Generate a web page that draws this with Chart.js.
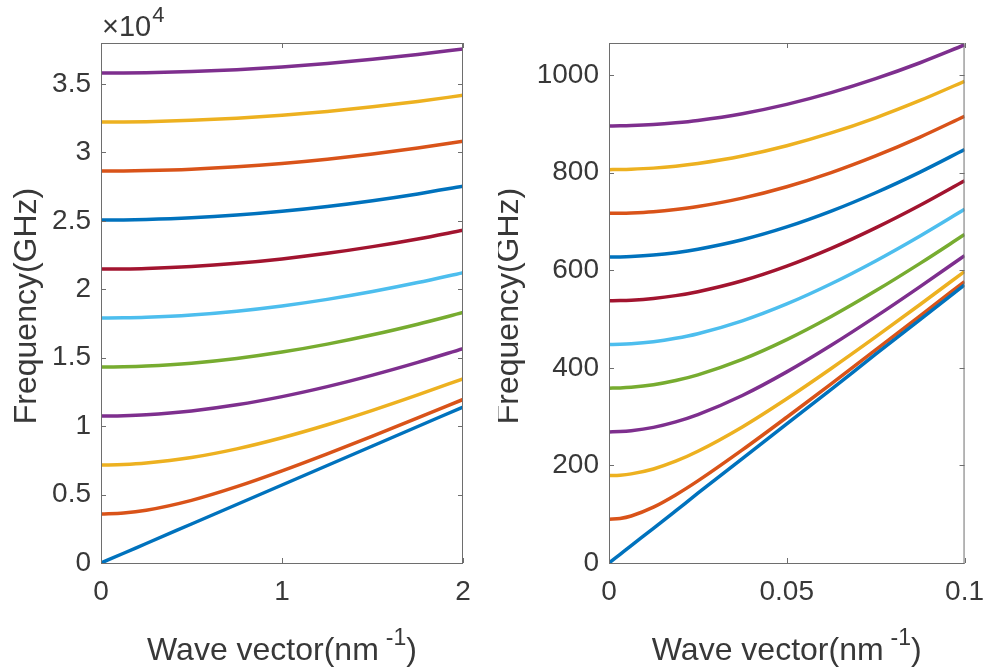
<!DOCTYPE html>
<html>
<head>
<meta charset="utf-8">
<script src="https://cdn.jsdelivr.net/npm/chart.js@4.4.1/dist/chart.umd.min.js"></script>
<style>
  html, body { margin: 0; padding: 0; background: #fff; }
  #wrap { position: relative; width: 996px; height: 670px; }
  .box { position: absolute; top: 0; width: 498px; height: 670px; }
</style>
</head>
<body>
<div id="wrap">
  <div class="box" style="left:0"><canvas id="leftChart"></canvas></div>
  <div class="box" style="left:498px"><canvas id="rightChart"></canvas></div>
</div>
<script>
// 波矢 (nm^-1)，左右兩圖的取樣點
const leftK = [0, 0.125, 0.25, 0.5, 0.75, 1, 1.25, 1.5, 1.75, 2];
const rightK = [0, 0.003125, 0.00625, 0.0125, 0.01875, 0.025, 0.0375, 0.05, 0.0625, 0.075, 0.0875, 0.1];

// 刻度
const leftXTicks = [0, 1, 2];
const leftYTicks = [0, 5000, 10000, 15000, 20000, 25000, 30000, 35000];
const rightXTicks = [0, 0.05, 0.1];
const rightYTicks = [0, 200, 400, 600, 800, 1000];

// 左圖各模態頻率 (GHz)
const leftMode0 = [0, 712, 1425, 2850, 4275, 5700, 7125, 8550, 9975, 11400];
const leftMode1 = [3580, 3650, 3853, 4576, 5576, 6731, 7974, 9269, 10598, 11949];
const leftMode2 = [7160, 7195, 7300, 7706, 8339, 9152, 10101, 11152, 12279, 13462];
const leftMode3 = [10740, 10764, 10834, 11112, 11560, 12159, 12888, 13728, 14658, 15662];
const leftMode4 = [14320, 14338, 14391, 14601, 14945, 15413, 15995, 16678, 17452, 18304];
const leftMode5 = [17900, 17914, 17957, 18126, 18404, 18786, 19266, 19837, 20492, 21222];
const leftMode6 = [21480, 21492, 21527, 21668, 21901, 22223, 22631, 23119, 23683, 24318];
const leftMode7 = [25060, 25070, 25101, 25222, 25422, 25700, 26053, 26478, 26972, 27531];
const leftMode8 = [28640, 28649, 28676, 28781, 28957, 29202, 29513, 29889, 30327, 30826];
const leftMode9 = [32220, 32228, 32252, 32346, 32502, 32720, 32998, 33335, 33729, 34177];
const leftMode10 = [35800, 35807, 35828, 35913, 36054, 36251, 36502, 36807, 37164, 37571];

// 右圖各模態頻率 (GHz)
const rightMode0 = [0, 17.8, 35.6, 71, 106.9, 143, 214, 285, 356, 428, 499, 570];
const rightMode1 = [89.6, 91.35, 96.4, 114.5, 139.5, 168.3, 231.8, 298.8, 367.3, 436.8, 506.7, 577.0];
const rightMode2 = [179.2, 180.08, 182.7, 192.8, 208.6, 229.0, 278.9, 336.7, 398.8, 463.5, 530.0, 597.5];
const rightMode3 = [268.8, 269.39, 271.2, 278.1, 289.3, 304.2, 343.4, 391.8, 446.3, 505.0, 566.6, 630.2];
const rightMode4 = [358.4, 358.84, 360.2, 365.4, 374.0, 385.7, 417.3, 457.9, 505.3, 557.9, 614.2, 673.3];
const rightMode5 = [448, 448.35, 449.4, 453.6, 460.6, 470.1, 496.4, 531.0, 572.4, 619.2, 670.4, 725.0];
const rightMode6 = [537.6, 537.9, 538.8, 542.3, 548.1, 556.2, 578.5, 608.5, 644.9, 686.9, 733.3, 783.5];
const rightMode7 = [627.2, 627.45, 628.2, 631.2, 636.2, 643.2, 662.6, 688.9, 721.3, 759.0, 801.3, 847.5];
const rightMode8 = [716.8, 717.02, 717.7, 720.3, 724.7, 730.8, 748.0, 771.4, 800.4, 834.6, 873.2, 915.8];
const rightMode9 = [806.4, 806.6, 807.2, 809.5, 813.4, 818.9, 834.2, 855.3, 881.6, 912.7, 948.2, 987.5];
const rightMode10 = [896, 896.18, 896.7, 898.8, 902.4, 907.3, 921.1, 940.2, 964.2, 992.8, 1025.5, 1062.0];

const leftModes = [leftMode0, leftMode1, leftMode2, leftMode3, leftMode4, leftMode5,
  leftMode6, leftMode7, leftMode8, leftMode9, leftMode10];
const rightModes = [rightMode0, rightMode1, rightMode2, rightMode3, rightMode4, rightMode5,
  rightMode6, rightMode7, rightMode8, rightMode9, rightMode10];

// MATLAB 預設顏色順序
const lineColors = ["#0072BD", "#D95319", "#EDB120", "#7E2F8E", "#77AC30",
  "#4DBEEE", "#A2142F"];

const FONT = "'Liberation Sans', Arial, Helvetica, sans-serif";
const TEXT_COLOR = "#383838";

function makeDatasets(kList, modes) {
  return modes.map((values, i) => ({
    data: values.map((v, j) => ({ x: kList[j], y: v })),
    borderColor: lineColors[i % lineColors.length],
    borderWidth: 3.5,
    pointRadius: 0,
    fill: false,
    cubicInterpolationMode: "monotone",
  }));
}

// 畫外框、向內刻度和座標軸標題
const frameAndTitles = {
  id: "frameAndTitles",
  afterDraw(chart, args, opts) {
    const ctx = chart.ctx;
    const a = chart.chartArea;
    const xs = chart.scales.x;
    const ys = chart.scales.y;
    ctx.save();
    ctx.strokeStyle = "#6e6e6e";
    ctx.lineWidth = 1;
    ctx.strokeRect(a.left + 0.5, a.top + 0.5, a.right - a.left - 1, a.bottom - a.top);
    const tl = 5;
    ctx.beginPath();
    xs.ticks.forEach((t) => {
      const px = Math.round(xs.getPixelForValue(t.value)) + 0.5;
      ctx.moveTo(px, a.bottom);
      ctx.lineTo(px, a.bottom - tl);
      ctx.moveTo(px, a.top);
      ctx.lineTo(px, a.top + tl);
    });
    ys.ticks.forEach((t) => {
      const py = Math.round(ys.getPixelForValue(t.value)) + 0.5;
      ctx.moveTo(a.left, py);
      ctx.lineTo(a.left + tl, py);
      ctx.moveTo(a.right, py);
      ctx.lineTo(a.right - tl, py);
    });
    ctx.stroke();

    ctx.fillStyle = TEXT_COLOR;
    // y 軸標題
    ctx.font = "32px " + FONT;
    ctx.save();
    ctx.translate(opts.yTitleX, (a.top + a.bottom) / 2 + 3);
    ctx.rotate(-Math.PI / 2);
    ctx.textAlign = "center";
    ctx.textBaseline = "middle";
    ctx.fillText("Frequency(GHz)", 0, 0);
    ctx.restore();

    // x 軸標題 Wave vector(nm^-1)
    const mainPart = "Wave vector(nm";
    const supPart = "-1";
    const endPart = ")";
    ctx.font = "32px " + FONT;
    const w1 = ctx.measureText(mainPart).width;
    const w3 = ctx.measureText(endPart).width;
    ctx.font = "23px " + FONT;
    const w2 = ctx.measureText(supPart).width;
    const gap = 7;
    const total = w1 + gap + w2 + w3;
    const x0 = (a.left + a.right) / 2 - total / 2;
    const base = 660;
    ctx.textAlign = "left";
    ctx.textBaseline = "alphabetic";
    ctx.font = "32px " + FONT;
    ctx.fillText(mainPart, x0, base);
    ctx.font = "23px " + FONT;
    ctx.fillText(supPart, x0 + w1 + gap, base - 15);
    ctx.font = "32px " + FONT;
    ctx.fillText(endPart, x0 + w1 + gap + w2, base);

    // 科學記號倍率
    if (opts.exponent) {
      ctx.font = "29px " + FONT;
      ctx.fillText("\u00d710", a.left + 1, 36);
      const we = ctx.measureText("\u00d710").width;
      ctx.font = "22px " + FONT;
      ctx.fillText(opts.exponent, a.left + 1 + we + 1, 22);
    }
    ctx.restore();
  },
};

function createConfig(kList, modes, setup) {
  return {
    type: "line",
    data: { datasets: makeDatasets(kList, modes) },
    options: {
      responsive: true,
      maintainAspectRatio: false,
      animation: false,
      layout: { padding: { top: 43, right: setup.rightPad, left: 0, bottom: 0 } },
      plugins: {
        legend: { display: false },
        tooltip: { enabled: false },
        frameAndTitles: { yTitleX: setup.yTitleX, exponent: setup.exponent },
      },
      scales: {
        x: {
          type: "linear",
          min: 0,
          max: setup.xMax,
          grid: { display: false, drawTicks: false },
          border: { display: false },
          ticks: {
            padding: 12,
            color: TEXT_COLOR,
            font: { family: FONT, size: 28 },
            maxRotation: 0,
            autoSkip: false,
            callback: (v) => String(+v.toFixed(3)),
          },
          afterBuildTicks: (scale) => {
            scale.ticks = setup.xTicks.map((v) => ({ value: v }));
          },
          afterFit: (scale) => { scale.height = 107; },
        },
        y: {
          type: "linear",
          min: 0,
          max: setup.yMax,
          grid: { display: false, drawTicks: false },
          border: { display: false },
          ticks: {
            padding: 10,
            color: TEXT_COLOR,
            font: { family: FONT, size: 28 },
            autoSkip: false,
            callback: setup.yLabel,
          },
          afterBuildTicks: (scale) => {
            scale.ticks = setup.yTicks.map((v) => ({ value: v }));
          },
          afterFit: (scale) => { scale.width = setup.yWidth; },
        },
      },
    },
    plugins: [frameAndTitles],
  };
}

const leftConfig = createConfig(leftK, leftModes, {
  xMax: 2, xTicks: leftXTicks, yMax: 38000, yTicks: leftYTicks,
  yWidth: 101, rightPad: 35, yTitleX: 27, exponent: "4",
  yLabel: (v) => String(+(v / 10000).toFixed(2)),
});
const rightConfig = createConfig(rightK, rightModes, {
  xMax: 0.1, xTicks: rightXTicks, yMax: 1066, yTicks: rightYTicks,
  yWidth: 111, rightPad: 25, yTitleX: 11, exponent: null,
  yLabel: (v) => String(v),
});

const leftChart = new Chart(document.querySelector("#leftChart"), leftConfig);
const rightChart = new Chart(document.querySelector("#rightChart"), rightConfig);
</script>
</body>
</html>
